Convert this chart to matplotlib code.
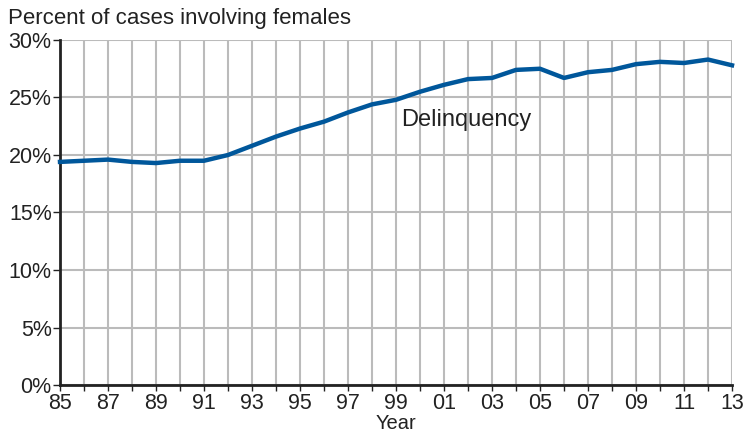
import matplotlib
matplotlib.use("Agg")
import matplotlib.pyplot as plt

years = list(range(1985, 2014))
delinquency = [19.4, 19.5, 19.6, 19.4, 19.3, 19.5, 19.5, 20.0, 20.8, 21.6,
               22.3, 22.9, 23.7, 24.4, 24.8, 25.5, 26.1, 26.6, 26.7, 27.4,
               27.5, 26.7, 27.2, 27.4, 27.9, 28.1, 28.0, 28.3, 27.8]
label_years = list(range(1985, 2014, 2))
tick_labels = [f"{y % 100:02d}" for y in label_years]
y_ticks = [0, 5, 10, 15, 20, 25, 30]
y_labels = [f"{v}%" for v in y_ticks]

plt.rcParams['font.family'] = ['Liberation Sans', 'DejaVu Sans']
TXT = '#222222'

fig = plt.figure(figsize=(7.44, 4.34), dpi=100)
ax = fig.add_axes([60/744, 1-385/434, (732-60)/744, (385-40)/434])

ax.set_xlim(1985, 2013)
ax.set_ylim(0, 30)

ax.set_xticks(years, minor=True)
ax.set_xticks(label_years)
ax.set_xticklabels(tick_labels, fontsize=15.5)
ax.set_yticks(y_ticks)
ax.set_yticklabels(y_labels, fontsize=15.5)

ax.grid(True, which='both', axis='x', color='#bbbbbb', linewidth=1.5)
ax.grid(True, which='major', axis='y', color='#bbbbbb', linewidth=1.5)
ax.set_axisbelow(True)

for s in ['top', 'right']:
    ax.spines[s].set_visible(False)
for s in ['left', 'bottom']:
    ax.spines[s].set_color(TXT)
    ax.spines[s].set_linewidth(2)

ax.tick_params(axis='x', which='both', direction='out', length=4, width=1,
               color=TXT, pad=2, labelcolor=TXT)
ax.tick_params(axis='y', which='both', direction='out', length=5, width=1,
               color=TXT, pad=1, labelcolor=TXT)

ax.plot(years, delinquency, color='#00579b', linewidth=3.2, solid_joinstyle='round',
        clip_on=False, zorder=5)

ax.text(1999.2, 22.5, "Delinquency", fontsize=17, color=TXT, va='baseline', ha='left')

fig.text(396/744, 1-429/434, "Year", fontsize=14.5, color=TXT, ha='center', va='baseline')
fig.text(8/744, 1-24/434, "Percent of cases involving females", fontsize=16,
         color=TXT, ha='left', va='baseline')

fig.savefig("out.png", dpi=100)
